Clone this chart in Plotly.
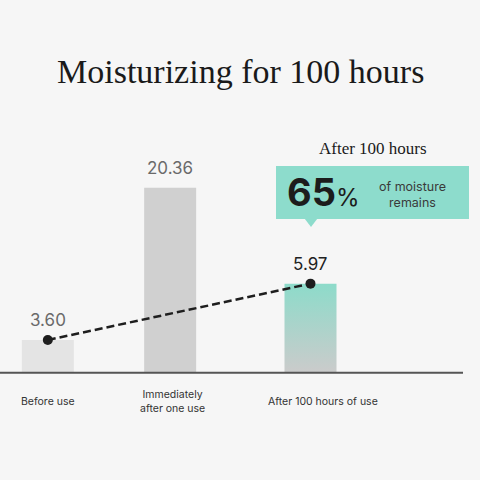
import plotly.graph_objects as go

# ---- data ----
categories = ["Before use", "Immediately<br>after one use", "After 100 hours of use"]
values = [3.60, 20.36, 5.97]
value_labels = ["3.60", "20.36", "5.97"]
# heights of the bars as drawn in the source picture (third bar is drawn taller than its value)
bar_heights = [3.60, 20.36, 9.8]
trend_points = [0, 2]          # bars joined by the dashed line
title_text = "Moisturizing for 100 hours"
callout_heading = "After 100 hours"
retention_pct = 65
callout_text = "of moisture<br>remains"

# ---- layout helpers (pixel -> axis/paper) ----
W = H = 480
PX_PER_X = 131.35
PX_PER_Y = 9.087
X0_PX = 47.8        # pixel x of first category
BASE_PX = 372.7     # pixel y of value 0
BAR_W = 52 / PX_PER_X
MID_SHIFT = -9 / PX_PER_X   # middle bar sits a little left of even spacing

def px(x):
    return x / W

def py(y):
    return 1 - y / H

idx = list(range(len(categories)))

fig = go.Figure()

# first two bars
fig.add_trace(go.Bar(
    x=idx[:2], y=bar_heights[:2], width=BAR_W,
    offset=[-BAR_W / 2, -BAR_W / 2 + MID_SHIFT],
    marker=dict(color=["#e4e4e4", "#d0d0d0"], line=dict(width=0)),
    hoverinfo="skip", showlegend=False,
))

# third bar with vertical gradient
i3, h3 = idx[2], bar_heights[2]
fig.add_trace(go.Scatter(
    x=[i3 - BAR_W / 2, i3 + BAR_W / 2, i3 + BAR_W / 2, i3 - BAR_W / 2, i3 - BAR_W / 2],
    y=[0, 0, h3, h3, 0],
    mode="lines", fill="toself",
    fillgradient=dict(type="vertical", colorscale=[[0, "#cbcbcb"], [1, "#8ddbca"]]),
    line=dict(width=0, color="rgba(0,0,0,0)"),
    hoverinfo="skip", showlegend=False,
))

# dashed trend line
fig.add_trace(go.Scatter(
    x=[idx[i] for i in trend_points],
    y=[bar_heights[i] for i in trend_points],
    mode="lines+markers",
    line=dict(color="#1e1e1e", width=2.5, dash="8px,4px"),
    marker=dict(size=10, color="#1e1e1e"),
    hoverinfo="skip", showlegend=False,
))

annotations = []
# title
annotations.append(dict(
    text=title_text, x=0.5, y=py(71), xref="paper", yref="paper",
    xanchor="center", yanchor="middle", showarrow=False,
    font=dict(family="Liberation Serif", size=34, color="#1a1a1a"),
))
# value labels
label_colors = ["#6a6a6a", "#6a6a6a", "#222222"]
label_shift = [0, -9, 0]
for i, lab in enumerate(value_labels):
    annotations.append(dict(
        text=lab, x=idx[i], y=bar_heights[i], xref="x", yref="y",
        xanchor="center", yanchor="middle", yshift=20, xshift=label_shift[i], showarrow=False,
        font=dict(family="Inter", size=17, color=label_colors[i]),
    ))
# category labels
cat_shift = [0, -7, 12]
for i, c in enumerate(categories):
    annotations.append(dict(
        text=c, x=idx[i], y=py(401), xref="x", yref="paper",
        xanchor="center", yanchor="middle", xshift=cat_shift[i], showarrow=False,
        font=dict(family="Inter", size=10.5, color="#333333"),
    ))
# callout heading
annotations.append(dict(
    text=callout_heading, x=px(373), y=py(148.5), xref="paper", yref="paper",
    xanchor="center", yanchor="middle", showarrow=False,
    font=dict(family="Liberation Serif", size=17, color="#1a1a1a"),
))
# 65%
annotations.append(dict(
    text=f"<b>{retention_pct}</b><span style='font-size:24px'>%</span>",
    x=px(285), y=py(192), xref="paper", yref="paper",
    xanchor="left", yanchor="middle", showarrow=False,
    font=dict(family="Inter", size=38, color="#1c1c1c"),
))
annotations.append(dict(
    text=callout_text, x=px(412), y=py(194.5), xref="paper", yref="paper",
    xanchor="center", yanchor="middle", showarrow=False,
    font=dict(family="Inter", size=12.5, color="#3a3a3a"),
))

shapes = [
    # baseline
    dict(type="line", xref="paper", yref="y", x0=0, x1=px(463), y0=0, y1=0,
         line=dict(color="#555555", width=2), layer="above"),
    # callout box
    dict(type="rect", xref="paper", yref="paper", x0=px(276), x1=px(469),
         y0=py(219), y1=py(166), fillcolor="#8ddccc", line=dict(width=0), layer="below"),
    dict(type="path", xref="paper", yref="paper",
         path=f"M {px(304.5)} {py(218.5)} L {px(317.5)} {py(218.5)} L {px(311)} {py(227)} Z",
         fillcolor="#8ddccc", line=dict(width=0), layer="below"),
]

fig.update_layout(
    width=W, height=H,
    margin=dict(l=0, r=0, t=0, b=0),
    paper_bgcolor="#f6f6f6", plot_bgcolor="#f6f6f6",
    xaxis=dict(visible=False, range=[-X0_PX / PX_PER_X, (W - X0_PX) / PX_PER_X], fixedrange=True),
    yaxis=dict(visible=False, range=[-(H - BASE_PX) / PX_PER_Y, BASE_PX / PX_PER_Y], fixedrange=True),
    annotations=annotations, shapes=shapes,
    showlegend=False,
)

fig.write_html(
    "out.html",
    config={"displayModeBar": False, "staticPlot": True},
    post_script="document.body.style.margin='0';document.body.style.background='#f6f6f6';",
)
